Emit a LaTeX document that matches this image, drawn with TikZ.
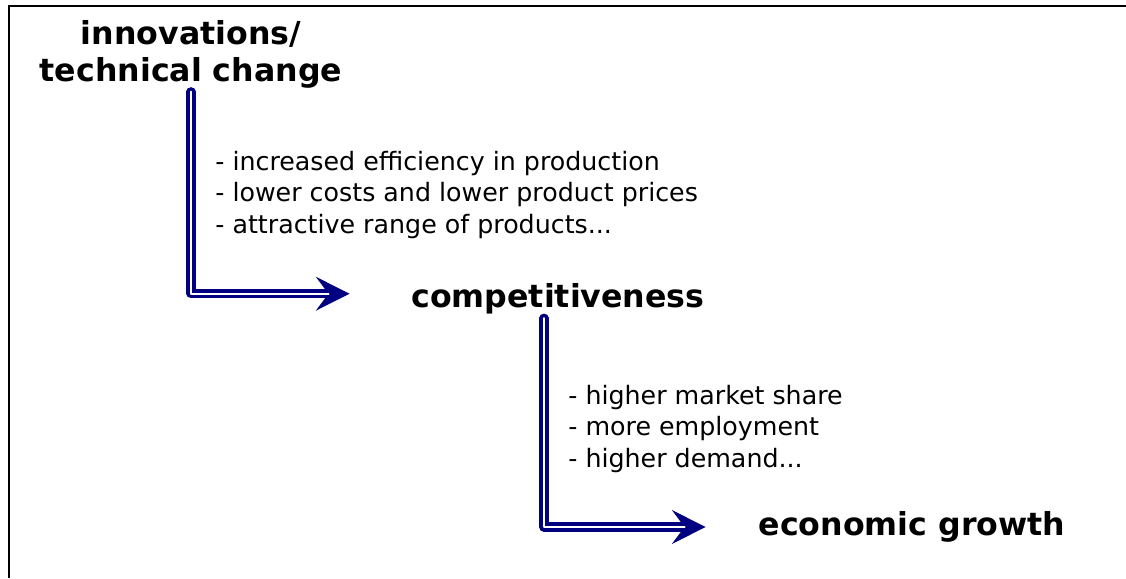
\documentclass[tikz,border=0pt]{standalone}
\usepackage{fontspec}
\setmainfont{DejaVu Sans}
\usetikzlibrary{arrows.meta,positioning}
\definecolor{arrowblue}{RGB}{0,0,128}
\tikzset{
    title/.style={font=\fontsize{18}{21}\selectfont\bfseries, align=center, inner sep=2pt},
    bullets/.style={font=\fontsize{14.4}{17.9}\selectfont, align=left, anchor=west, inner sep=0pt},
    flow/.style={draw=arrowblue, line width=5.2pt, line join=round, line cap=round,
                 -{Stealth[length=19pt, width=19pt, inset=7pt]}, shorten >=#1,
                 postaction={draw=white, line width=1.3pt, -, shorten >=#1+12pt}},
    frame/.style={line width=1.1pt},
  }
\begin{document}
\begin{tikzpicture}[x=0.2mm,y=-0.2mm]
				  %cadre : pixels de l'original, y vers le bas
				  \useasboundingbox (0,0) rectangle (1126,578);
				  \draw[frame] (1126,6) -- (9,6) -- (9,578);
				  
				  \node[title] (innov) at (191,54) {innovations/\\technical change};
				  \node[title] (compet) at (558,299) {competitiveness};
				  \node[title] (growth) at (912,527) {economic growth};
				  
				  \node[bullets] (effects) at (215,195) {- increased efficiency in production\\- lower costs and lower product prices\\- attractive range of products...};
				  \node[bullets] (gains) at (568,429) {- higher market share\\- more employment\\- higher demand...};
				  
				  \draw[flow=33pt] (innov.south) |- ([yshift=3pt]compet.west);
				  \draw[flow=28pt] ([xshift=-8pt]compet.south) |- (growth.west);
				  \end{tikzpicture}
\end{document}
